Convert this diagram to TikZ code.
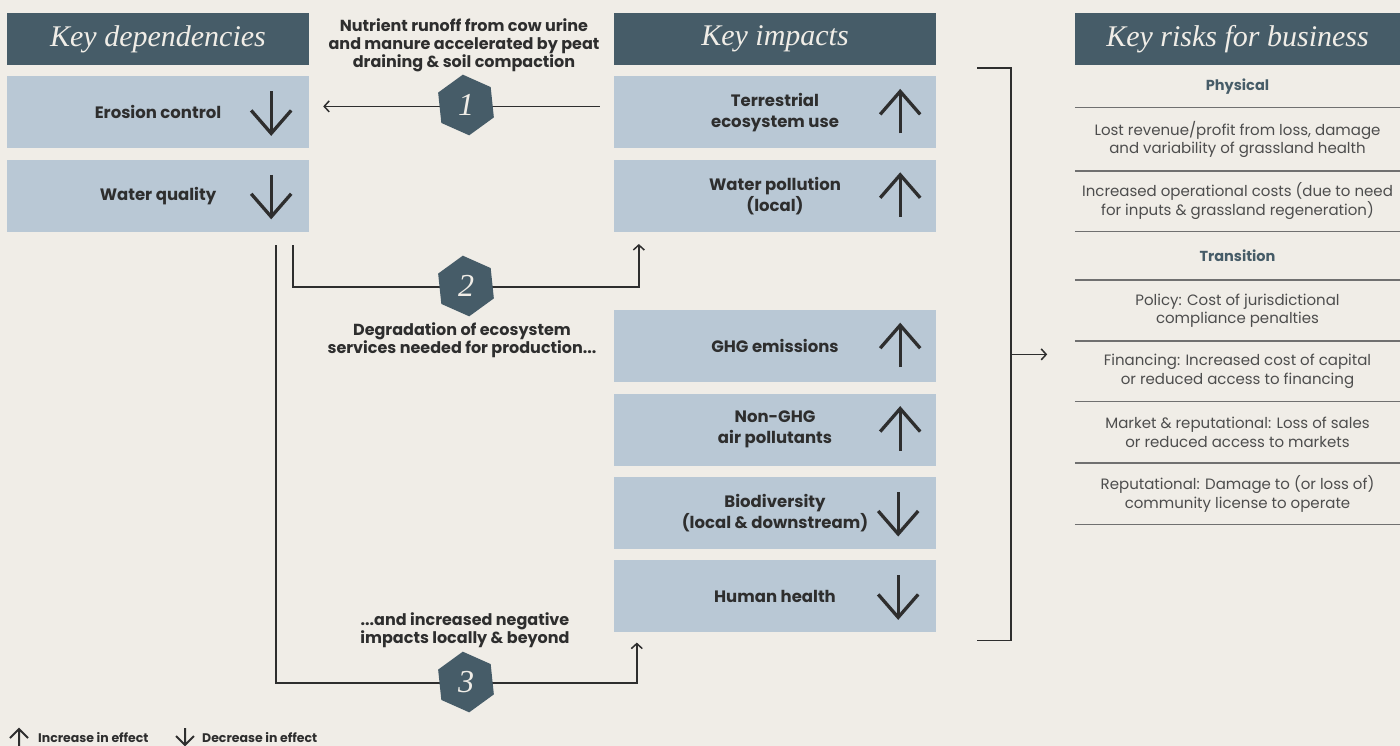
\documentclass[tikz,border=0pt]{standalone}
\usepackage{fontspec}
\setmainfont{Poppins}
\newfontfamily\headfont{Liberation Serif}
\usetikzlibrary{positioning,calc,shapes.geometric,arrows.meta}

\definecolor{paper}{HTML}{F0EDE7}
\definecolor{slate}{HTML}{465C68}
\definecolor{boxblue}{HTML}{B9C8D5}
\definecolor{ink}{HTML}{2E2E2E}
\definecolor{rule}{HTML}{707070}

\tikzset{
  head/.style={fill=slate, text=paper, minimum height=52pt, inner sep=0pt,
    font=\headfont\itshape\fontsize{30}{36}\selectfont},
  effbox/.style={fill=boxblue, text=ink, minimum height=72pt, inner sep=0pt,
    align=center, font=\bfseries\fontsize{16.5}{21}\selectfont},
  note/.style={text=ink, align=center, font=\bfseries\fontsize{16}{18}\selectfont},
  riskrow/.style={text=ink!85, minimum width=325pt, inner sep=0pt, align=center,
    font=\fontsize{15}{18.5}\selectfont},
  riskhead/.style={riskrow, text=slate, font=\bfseries\fontsize{14.5}{18}\selectfont},
  badge/.style={regular polygon, regular polygon sides=6, minimum size=61pt,
    shape border rotate=36, fill=slate, text=paper, inner sep=0pt,
    font=\headfont\itshape\fontsize{32}{32}\selectfont},
  legend/.style={text=ink, inner sep=0pt, font=\bfseries\fontsize{12.5}{14}\selectfont},
  link/.style={draw=ink, line width=1.5pt, -{Straight Barb[length=5pt,width=11pt]}},
  bar/.style={draw=ink, line width=1.5pt},
  sep/.style={draw=rule, line width=1.5pt},
  effect/.style={draw=ink, line width=3.3pt, line join=miter},
}

% arrow marks inside the effect boxes
\newcommand\upmark[1]{%
  \draw[effect] ([xshift=-36pt,yshift=-21pt]#1.east) -- ([xshift=-36pt,yshift=21pt]#1.east);
  \draw[effect] ([xshift=-56pt,yshift=-2pt]#1.east) -- ([xshift=-36pt,yshift=21pt]#1.east)
    -- ([xshift=-16pt,yshift=-2pt]#1.east);}
\newcommand\downmark[1]{%
  \draw[effect] ([xshift=-38pt,yshift=21pt]#1.east) -- ([xshift=-38pt,yshift=-21pt]#1.east);
  \draw[effect] ([xshift=-58pt,yshift=2pt]#1.east) -- ([xshift=-38pt,yshift=-21pt]#1.east)
    -- ([xshift=-18pt,yshift=2pt]#1.east);}

\begin{document}
\begin{tikzpicture}[x=1pt,y=-1pt]
\fill[paper] (0,0) rectangle (1400,746);
\useasboundingbox (0,0) rectangle (1400,746);

% dependencies
\node[head, minimum width=302pt] (hdep) at (158,39) {Key dependencies};
\node[effbox, minimum width=302pt, below=11pt of hdep] (dep1) {Erosion control};
\node[effbox, minimum width=302pt, below=11pt of dep1] (dep2) {Water quality};
\downmark{dep1}
\downmark{dep2}

% impacts
\node[head, minimum width=322pt] (himp) at (775,39) {Key impacts};
\node[effbox, minimum width=322pt, below=11pt of himp] (imp1) {Terrestrial\\ecosystem use};
\node[effbox, minimum width=322pt, below=11pt of imp1] (imp2) {Water pollution\\(local)};
\node[effbox, minimum width=322pt, below=78pt of imp2] (imp3) {GHG emissions};
\node[effbox, minimum width=322pt, below=11pt of imp3] (imp4) {Non-GHG\\air pollutants};
\node[effbox, minimum width=322pt, below=11pt of imp4] (imp5) {Biodiversity\\(local \& downstream)};
\node[effbox, minimum width=322pt, below=11pt of imp5] (imp6) {Human health};
\upmark{imp1}
\upmark{imp2}
\upmark{imp3}
\upmark{imp4}
\downmark{imp5}
\downmark{imp6}

% pathways
\node[note] (ann1) at (464,45) {Nutrient runoff from cow urine\\and manure accelerated by peat\\draining \& soil compaction};
\node[note] (ann2) at (462,340) {Degradation of ecosystem\\services needed for production...};
\node[note] (ann3) at (465,630) {...and increased negative\\impacts locally \& beyond};

\draw[link] ([xshift=-14pt,yshift=6pt]imp1.west) -- ([xshift=14pt,yshift=6pt]dep1.east);
\draw[link] ([xshift=-16pt,yshift=-13pt]dep2.south east) -- ++(0,42)
  -| ([xshift=25pt,yshift=-12pt]imp2.south west);
\draw[link] ([xshift=-33pt,yshift=-13pt]dep2.south east) -- ++(0,438)
  -| ([xshift=23pt,yshift=-10pt]imp6.south west);

\node[badge] (b1) at (466,105) {1};
\node[badge] (b2) at (466,286) {2};
\node[badge] (b3) at (466,682) {3};

% bracket to risks
\coordinate (brtop) at ([xshift=41pt,yshift=8pt]imp1.north east);
\coordinate (brbot) at ([xshift=41pt,yshift=-8pt]imp6.south east);
\draw[bar] (brtop) -- ++(34,0) -- ($(brbot)+(34,0)$) -- (brbot);
\coordinate (brmid) at ($(brtop)!0.5!(brbot)+(34,0)$);
\draw[link] (brmid) -- ++(36,0);

% risks
\node[head, minimum width=325pt] (hrisk) at (1237.5,39) {Key risks for business};
\node[riskhead, minimum height=42pt, below=0pt of hrisk] (rphys) {Physical};
\node[riskrow, minimum height=63pt, below=0pt of rphys] (rlost) {Lost revenue/profit from loss, damage\\and variability of grassland health};
\node[riskrow, minimum height=60pt, below=0pt of rlost] (rcost) {Increased operational costs (due to need\\for inputs \& grassland regeneration)};
\node[riskhead, minimum height=48pt, below=0pt of rcost] (rtrans) {Transition};
\node[riskrow, minimum height=61pt, below=0pt of rtrans] (rpol) {Policy: Cost of jurisdictional\\compliance penalties};
\node[riskrow, minimum height=60pt, below=0pt of rpol] (rfin) {Financing: Increased cost of capital\\or reduced access to financing};
\node[riskrow, minimum height=61pt, below=0pt of rfin] (rmkt) {Market \& reputational: Loss of sales\\or reduced access to markets};
\node[riskrow, minimum height=61pt, below=0pt of rmkt] (rrep) {Reputational: Damage to (or loss of)\\community license to operate};
\foreach \r in {rphys,rlost,rcost,rtrans,rpol,rfin,rmkt,rrep}
  \draw[sep] (\r.south west) -- (\r.south east);

% legend
\node[legend, anchor=west] (linc) at (38,738) {Increase in effect};
\node[legend, anchor=west] (ldec) at (202,738) {Decrease in effect};
\draw[effect, line width=2pt] (19,729) -- (19,746) (10,738) -- (19,729) -- (28,738);
\draw[effect, line width=2pt] (185,728) -- (185,745) (176,736) -- (185,745) -- (194,736);
\end{tikzpicture}
\end{document}
